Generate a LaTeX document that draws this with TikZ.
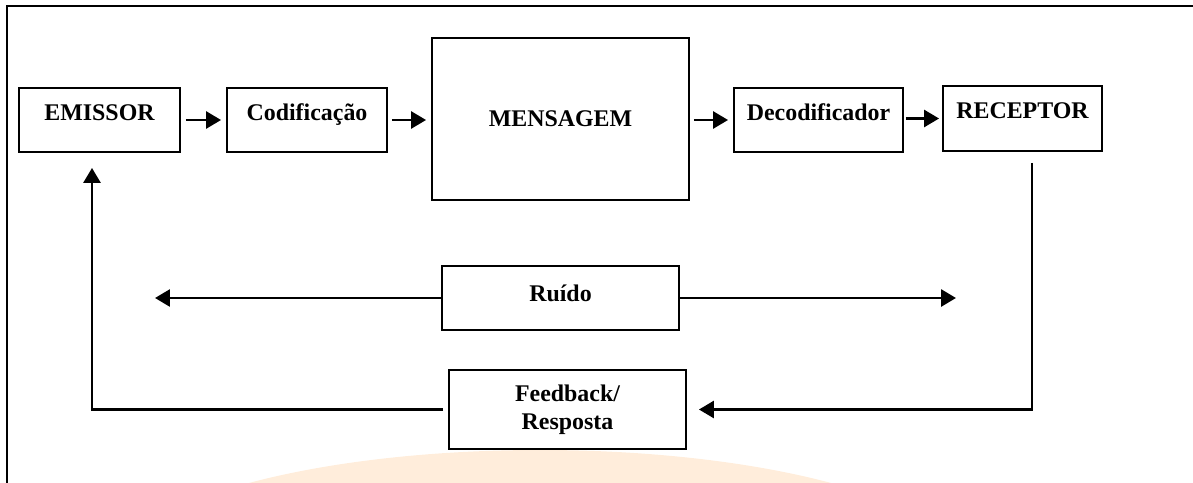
\documentclass[tikz,border=0pt]{standalone}
\usepackage{fontspec}
\setmainfont{Liberation Serif}
\usetikzlibrary{arrows.meta}
\tikzstyle{caixa} = [rectangle, draw=black, line width=1.1pt, inner sep=0pt, text centered, align=center, font=\fontsize{13.6}{16}\selectfont\bfseries]
\tikzstyle{bloco} = [caixa, text height=0.3cm, text depth=0.3cm]
\tikzstyle{centro} = [caixa, text height=0.3cm, text depth=0cm]
\tikzstyle{arrow} = [line width=1.6pt, -{Triangle[length=0.3cm, width=0.34cm]}]
\tikzstyle{linha} = [line width=1.6pt]

\begin{document}
\begin{tikzpicture}[x=0.02cm, y=-0.02cm]
    \useasboundingbox (0,0) rectangle (1193,483);

    % mancha laranja no rodape
    \begin{scope}
        \clip (0,0) rectangle (1193,483);
        \fill [orange!14] (540,575) ellipse [x radius=430, y radius=125];
    \end{scope}

    % moldura
    \draw [linha] (7,483) -- (7,6) -- (1193,6);

    \node (emissor) [bloco, minimum width=3.22cm, minimum height=1.28cm] at (99.5,120) {EMISSOR};
    \node (codif) [bloco, minimum width=3.2cm, minimum height=1.28cm] at (307,120) {Codificação};
    \node (mensagem) [centro, minimum width=5.14cm, minimum height=3.24cm] at (560.5,119) {MENSAGEM};
    \node (decod) [bloco, minimum width=3.38cm, minimum height=1.28cm] at (818.5,120) {Decodificador};
    \node (receptor) [bloco, minimum width=3.18cm, minimum height=1.3cm] at (1022.5,118.5) {RECEPTOR};
    \node (ruido) [centro, text depth=0.15cm, minimum width=4.74cm, minimum height=1.28cm] at (560.5,298) {Ruído};
    \node (feedback) [caixa, minimum width=4.74cm, minimum height=1.58cm] at (567.5,409.5) {Feedback/\\Resposta};

    \coordinate (ruidoesq) at (155,298);
    \coordinate (ruidodir) at (956,298);

    \draw [arrow] ([xshift=0.1cm]emissor.east) -- ([xshift=-0.1cm]codif.west);
    \draw [arrow] ([xshift=0.08cm]codif.east) -- ([xshift=-0.1cm]mensagem.west |- codif.east);
    \draw [arrow] ([xshift=0.08cm]mensagem.east |- decod.west) -- ([xshift=-0.1cm]decod.west);
    \draw [arrow] ([xshift=0.04cm]decod.east |- receptor.west) -- ([xshift=-0.06cm]receptor.west);

    \draw [arrow] (ruido.west) -- (ruidoesq);
    \draw [arrow] (ruido.east) -- (ruidodir);

    \draw [arrow] ([shift={(9.5,11)}]receptor.south) |- ([xshift=0.24cm]feedback.east);
    \draw [arrow] ([xshift=-0.1cm]feedback.west) -| ([shift={(-7.5,15)}]emissor.south);
\end{tikzpicture}
\end{document}
